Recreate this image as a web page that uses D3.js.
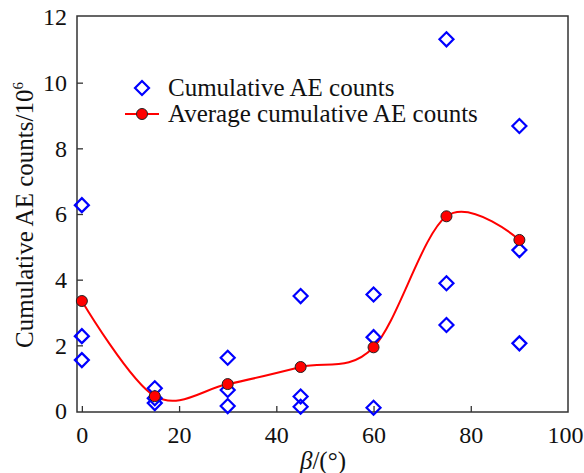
<!DOCTYPE html>
<html>
<head>
<meta charset="utf-8">
<script src="https://cdn.jsdelivr.net/npm/d3@7"></script>
<style>
  body { margin: 0; background: #fff; }
  svg text { font-family: "Liberation Serif", "Times New Roman", serif; fill: #111; }
</style>
</head>
<body>
<div id="chart"></div>
<script>
// angle groups (degrees)
const angles = [0, 15, 30, 45, 60, 75, 90];
// three specimens per angle, cumulative AE counts / 10^6
const countsA = [6.27, 0.69, 1.62, 3.50, 3.55, 11.32, 8.68];
const countsB = [2.28, 0.39, 0.64, 0.44, 2.25, 3.89, 4.90];
const countsC = [1.55, 0.24, 0.15, 0.13, 0.10, 2.62, 2.06];
// average cumulative AE counts / 10^6
const averages = [3.35, 0.45, 0.82, 1.34, 1.94, 5.93, 5.21];
const xTicks = [0, 20, 40, 60, 80, 100];
const yTicks = [0, 2, 4, 6, 8, 10, 12];

const width = 584, height = 473;
const margin = {top: 17, right: 16, bottom: 62, left: 77};

const svg = d3.select("#chart").append("svg")
    .attr("width", width)
    .attr("height", height);

const x = d3.scaleLinear().domain([-1, 100]).range([margin.left, width - margin.right]);
const y = d3.scaleLinear().domain([0, 12]).range([411, margin.top]);

const axisColor = "#333";

// frame
svg.append("rect")
    .attr("x", margin.left)
    .attr("y", margin.top - 1)
    .attr("width", width - margin.right - margin.left)
    .attr("height", 412 - margin.top + 1)
    .attr("fill", "none")
    .attr("stroke", axisColor)
    .attr("stroke-width", 1.5);

// bottom axis, ticks pointing inward
const xAxis = svg.append("g")
    .attr("transform", "translate(0,412)")
    .call(d3.axisBottom(x).tickValues(xTicks).tickSizeInner(-6).tickSizeOuter(0).tickPadding(14));
xAxis.select(".domain").remove();
xAxis.selectAll(".tick line").attr("stroke", axisColor).attr("stroke-width", 1.3);
xAxis.selectAll(".tick text").attr("font-size", "24px").attr("fill", "#111")
    .attr("font-family", "Liberation Serif, serif");
// last label sits on the page edge
xAxis.selectAll(".tick").filter(d => d === 100).select("text")
    .attr("text-anchor", "end").attr("x", 15);
xAxis.selectAll(".tick").filter(d => d === 100).select("line").remove();

// left axis
const yAxis = svg.append("g")
    .attr("transform", `translate(${margin.left},0)`)
    .call(d3.axisLeft(y).tickValues(yTicks).tickSizeInner(-6).tickSizeOuter(0).tickPadding(10));
yAxis.select(".domain").remove();
yAxis.selectAll(".tick line").attr("stroke", axisColor).attr("stroke-width", 1.3);
yAxis.selectAll(".tick text").attr("font-size", "24px").attr("fill", "#111")
    .attr("font-family", "Liberation Serif, serif");
yAxis.selectAll(".tick").filter(d => d === 12 || d === 0).select("line").remove();

// smooth average curve
const avgData = angles.map((a, i) => ({a, v: averages[i]}));
const line = d3.line()
    .x(d => x(d.a))
    .y(d => y(d.v))
    .curve(d3.curveCardinal.tension(0));

svg.append("path")
    .datum(avgData)
    .attr("d", line)
    .attr("fill", "none")
    .attr("stroke", "#ff0000")
    .attr("stroke-width", 2);

// scatter diamonds
const pts = [];
[countsA, countsB, countsC].forEach(arr => arr.forEach((v, i) => pts.push({a: angles[i], v})));

const diamond = s => `M0,${-s}L${s},0L0,${s}L${-s},0Z`;

svg.selectAll("path.pt")
    .data(pts)
    .join("path")
        .attr("class", "pt")
        .attr("transform", d => `translate(${x(d.a)},${y(d.v)})`)
        .attr("d", diamond(7))
        .attr("fill", "none")
        .attr("stroke", "#0000ff")
        .attr("stroke-width", 2.2);

svg.selectAll("circle.avg")
    .data(avgData)
    .join("circle")
        .attr("class", "avg")
        .attr("cx", d => x(d.a))
        .attr("cy", d => y(d.v))
        .attr("r", 5.5)
        .attr("fill", "#ff0000")
        .attr("stroke", "#222")
        .attr("stroke-width", 1);

// legend
const legend = svg.append("g");
legend.append("path")
    .attr("transform", "translate(142,88)")
    .attr("d", diamond(7))
    .attr("fill", "none")
    .attr("stroke", "#0000ff")
    .attr("stroke-width", 2.2);
legend.append("text")
    .attr("x", 168).attr("y", 96)
    .attr("font-size", "25px")
    .text("Cumulative AE counts");

legend.append("line")
    .attr("x1", 125).attr("x2", 159)
    .attr("y1", 114).attr("y2", 114)
    .attr("stroke", "#ff0000")
    .attr("stroke-width", 2);
legend.append("circle")
    .attr("cx", 142).attr("cy", 114)
    .attr("r", 5.5)
    .attr("fill", "#ff0000")
    .attr("stroke", "#222");
legend.append("text")
    .attr("x", 168).attr("y", 122)
    .attr("font-size", "25px")
    .text("Average cumulative AE counts");

// axis titles
const yTitle = svg.append("text")
    .attr("transform", "translate(33,215) rotate(-90)")
    .attr("text-anchor", "middle")
    .attr("font-size", "25px");
yTitle.append("tspan").text("Cumulative AE counts/10");
yTitle.append("tspan").attr("font-size", "15px").attr("dy", -10).text("6");

const xTitle = svg.append("text")
    .attr("x", 323).attr("y", 469)
    .attr("text-anchor", "middle")
    .attr("font-size", "25px");
xTitle.append("tspan").attr("font-style", "italic").text("β");
xTitle.append("tspan").text("/(°)");
</script>
</body>
</html>
